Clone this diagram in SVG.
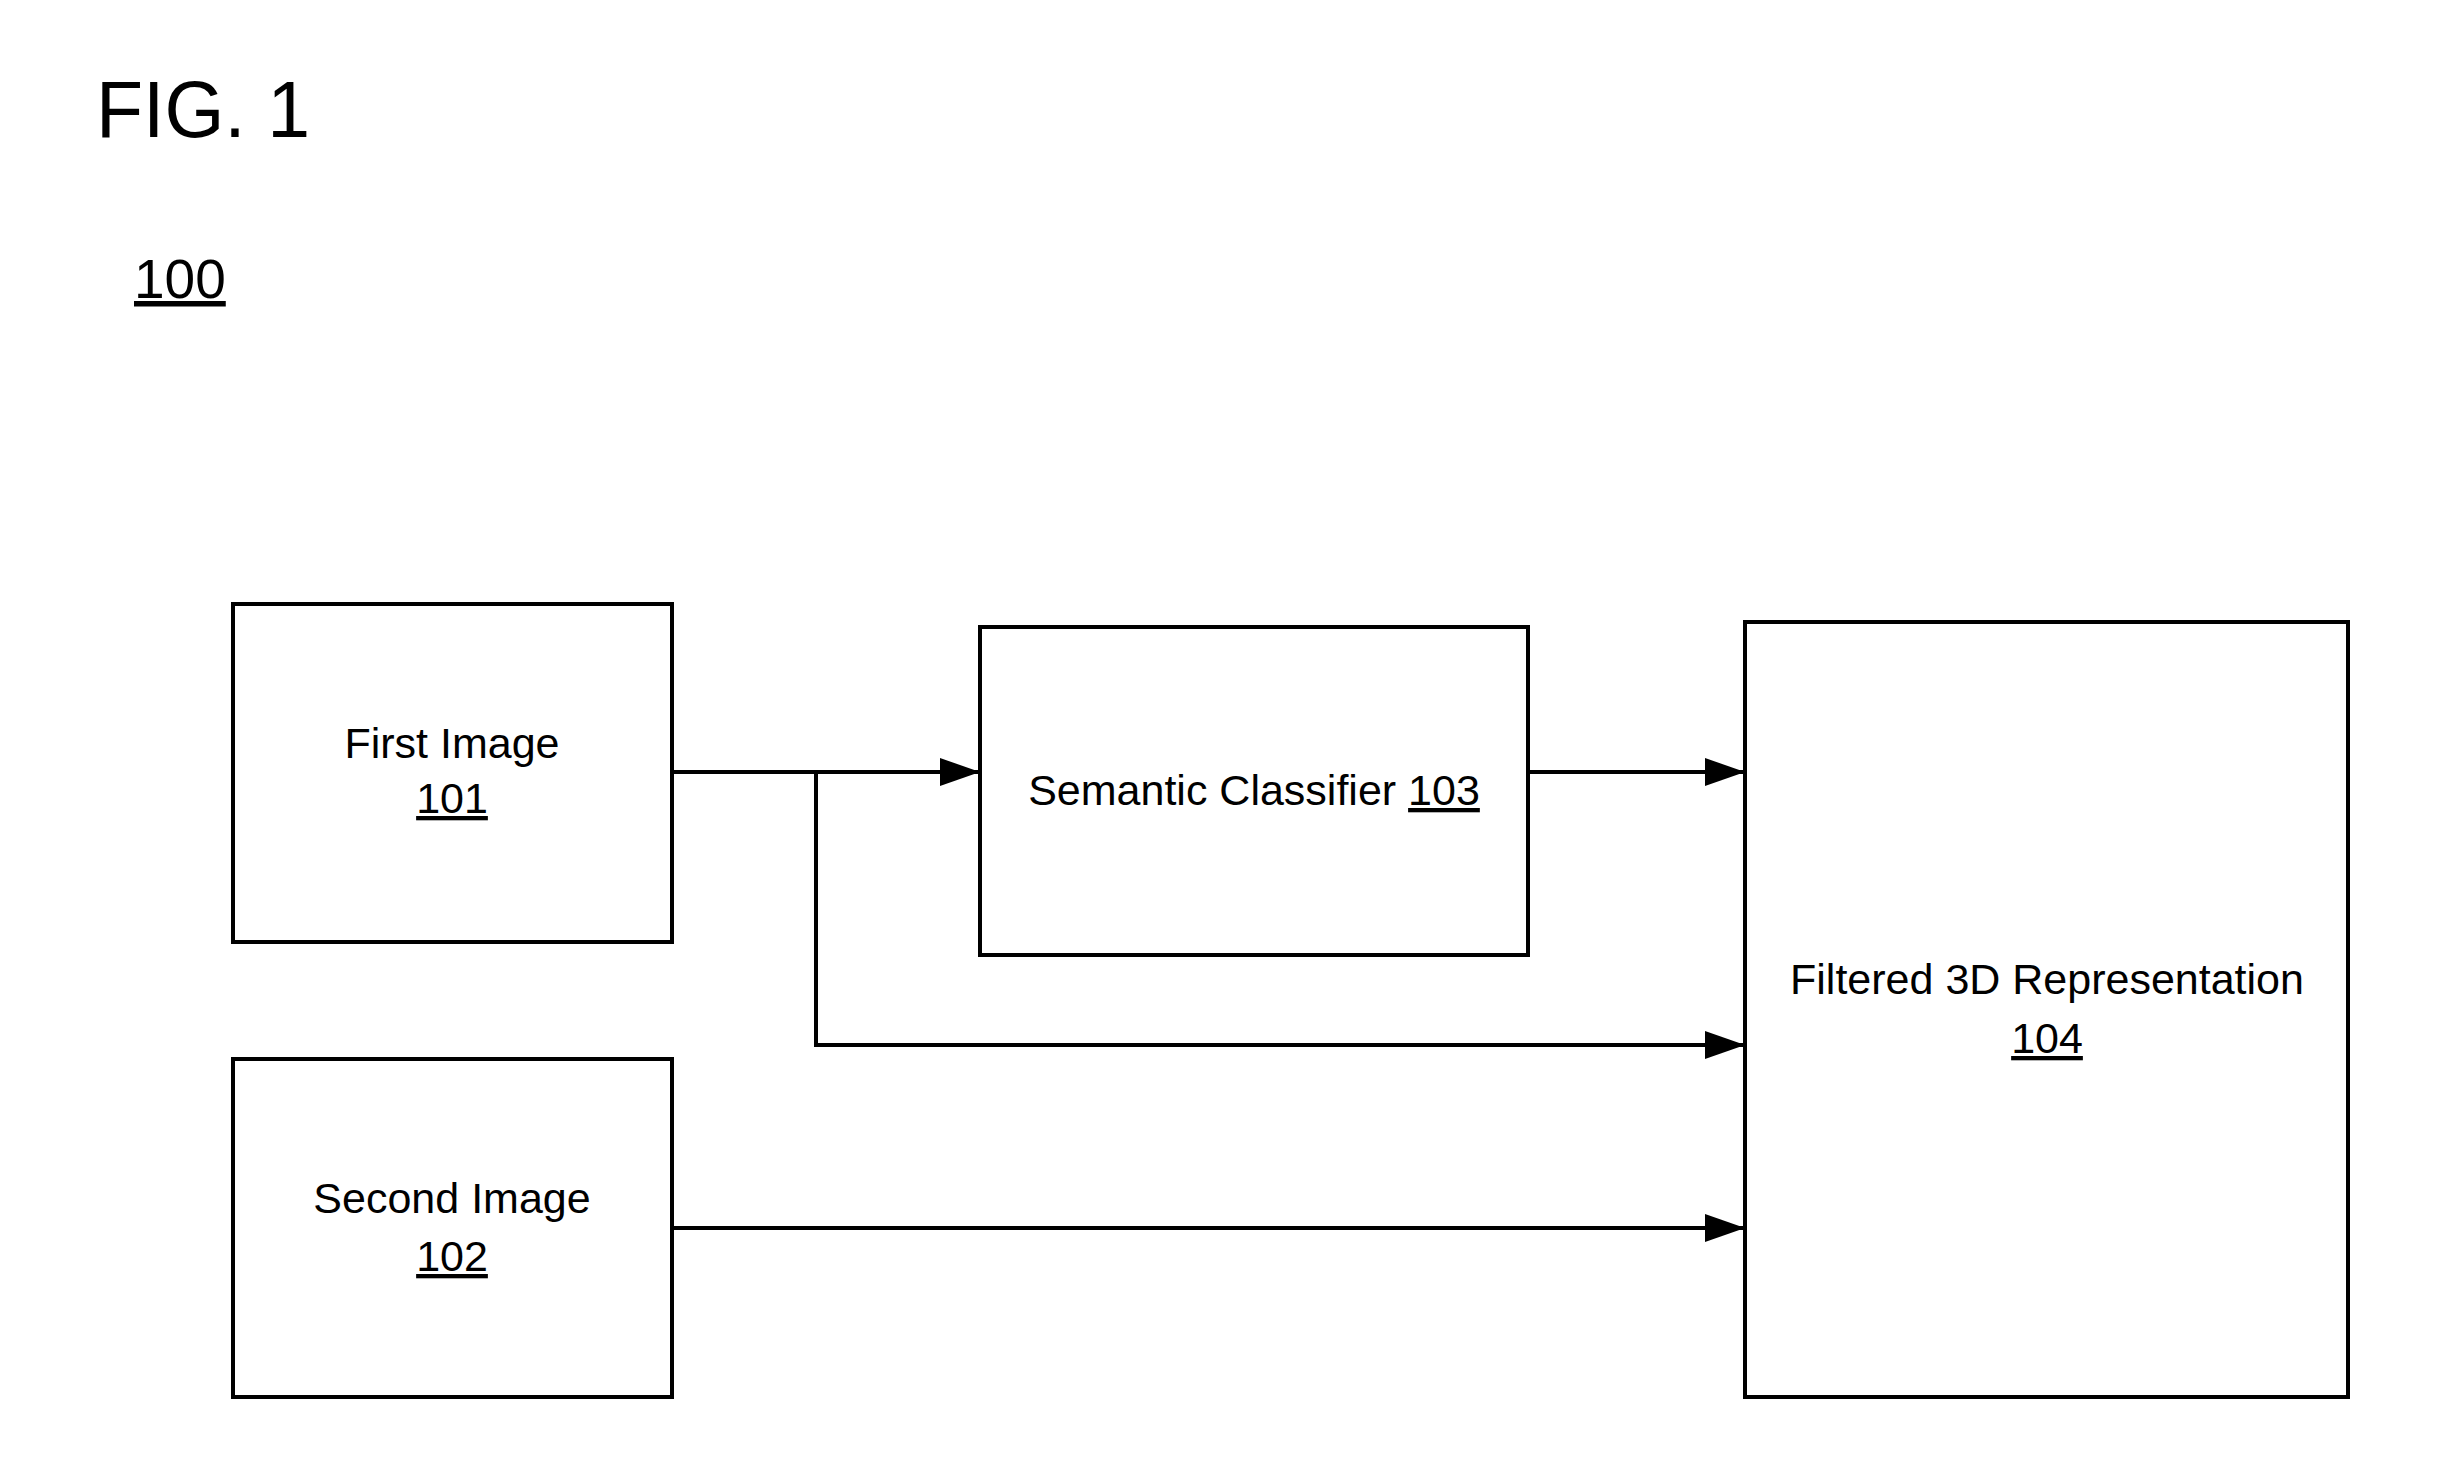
<svg xmlns="http://www.w3.org/2000/svg" width="2450" height="1475" viewBox="0 0 2450 1475">
<style>
  .box { fill: #fff; stroke: #000; stroke-width: 4; }
  .lbl { font-family: "Liberation Sans", Arial, sans-serif; font-size: 43px; fill: #000; text-anchor: middle; }
  .ref { text-decoration: underline; }
  .conn { fill: none; stroke: #000; stroke-width: 4; }
</style>
<defs>
  <marker id="arrow" markerUnits="userSpaceOnUse" markerWidth="40" markerHeight="28" refX="40" refY="14" orient="auto">
    <path d="M0,0 L40,14 L0,28 z" fill="#000"/>
  </marker>
</defs>
<rect width="2450" height="1475" fill="#fff"/>
<text x="96" y="137" font-family="Liberation Sans, Arial, sans-serif" font-size="80" textLength="214" lengthAdjust="spacingAndGlyphs">FIG. 1</text>
<text x="134" y="298" font-family="Liberation Sans, Arial, sans-serif" font-size="55" text-decoration="underline">100</text>

<g id="connectors">
  <path class="conn" d="M672,772 H980" marker-end="url(#arrow)"/>
  <path class="conn" d="M816,772 V1045 H1745" marker-end="url(#arrow)"/>
  <path class="conn" d="M1528,772 H1745" marker-end="url(#arrow)"/>
  <path class="conn" d="M672,1228 H1745" marker-end="url(#arrow)"/>
</g>

<g id="node-101">
  <rect class="box" x="233" y="604" width="439" height="338"/>
  <text class="lbl" x="452" y="758">First Image</text>
  <text class="lbl ref" x="452" y="813">101</text>
</g>
<g id="node-102">
  <rect class="box" x="233" y="1059" width="439" height="338"/>
  <text class="lbl" x="452" y="1213">Second Image</text>
  <text class="lbl ref" x="452" y="1271">102</text>
</g>
<g id="node-103">
  <rect class="box" x="980" y="627" width="548" height="328"/>
  <text class="lbl" x="1254" y="805">Semantic Classifier <tspan class="ref">103</tspan></text>
</g>
<g id="node-104">
  <rect class="box" x="1745" y="622" width="603" height="775"/>
  <text class="lbl" x="2047" y="994">Filtered 3D Representation</text>
  <text class="lbl ref" x="2047" y="1053">104</text>
</g>
</svg>
